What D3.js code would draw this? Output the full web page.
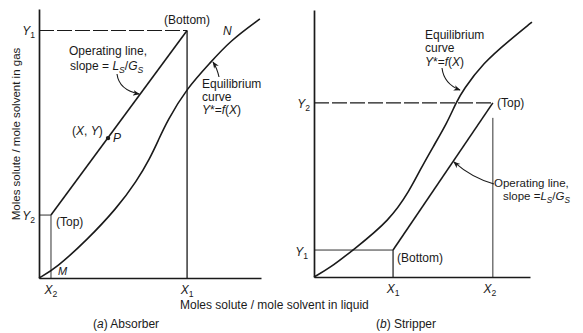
<!DOCTYPE html>
<html>
<head>
<meta charset="utf-8">
<script src="https://cdn.jsdelivr.net/npm/d3@7"></script>
<style>
  body { margin: 0; background: #fff; }
  svg text { font-family: "Liberation Sans", Arial, sans-serif; fill: #1a1a1a; }
</style>
</head>
<body>
<div id="chart"></div>
<script>
// Absorber (left) values
const absorberX = [0.54, 6.67];          // X2, X1
const absorberY = [2.34, 9.2];           // Y2, Y1
const absorberP = [3.11, 5.2];           // point (X, Y)
const absorberEq = [
  [0, 0], [0.77, 0.37], [2.16, 1.41], [3.51, 2.6], [4.41, 3.61], [5.0, 4.46],
  [5.36, 5.09], [5.77, 5.84], [6.67, 7.06], [7.7, 7.99], [8.6, 8.81], [9.95, 9.63]
];

// Stripper (right) values
const stripperX = [3.66, 8.28];          // X1, X2
const stripperY = [1.01, 6.52];          // Y1, Y2
const stripperX2Top = 5.96;              // where the X2 drop line starts
const stripperEq = [
  [0, 0], [0.74, 0.34], [1.81, 1.01], [3.52, 2.13], [4.44, 3.26], [4.91, 4.01],
  [5.51, 4.87], [6.16, 5.77], [6.57, 6.52], [6.9, 7.0], [7.82, 8.01], [9.07, 8.88], [10.09, 9.55]
];

const W = 583, H = 333;
const ink = "#1a1a1a";

const svg = d3.select("#chart").append("svg")
  .attr("width", W).attr("height", H);

const defs = svg.append("defs");
defs.append("marker")
  .attr("id", "arrow")
  .attr("viewBox", "0 0 10 10")
  .attr("refX", 9).attr("refY", 5)
  .attr("markerWidth", 7).attr("markerHeight", 7)
  .attr("markerUnits", "userSpaceOnUse")
  .attr("orient", "auto")
  .append("path")
  .attr("d", "M0,1 L10,5 L0,9 L3,5 Z")
  .attr("fill", ink);

// scales
const xLeft = d3.scaleLinear().domain([0, 10]).range([39, 261]);
const yLeft = d3.scaleLinear().domain([0, 10]).range([278, 9]);
const xRight = d3.scaleLinear().domain([0, 10]).range([314, 530]);
const yRight = d3.scaleLinear().domain([0, 10]).range([277, 10]);

// rich text helper: segs = [{t, i: italic, s: subscript}]
function rich(x, y, segs, opts = {}) {
  const size = opts.size || 12;
  const t = svg.append("text")
    .attr("x", x).attr("y", y)
    .attr("font-size", size)
    .attr("text-anchor", opts.anchor || "start");
  if (opts.rotate) t.attr("transform", `rotate(${opts.rotate},${x},${y})`);
  let shifted = false;
  segs.forEach(s => {
    const sp = t.append("tspan").text(s.t);
    if (s.i) sp.attr("font-style", "italic");
    if (s.s && !shifted) { sp.attr("dy", 2.5).attr("font-size", size * 0.72); shifted = true; }
    else if (s.s) sp.attr("font-size", size * 0.72);
    else if (shifted) { sp.attr("dy", -2.5); shifted = false; }
  });
  return t;
}

function seg(x1, y1, x2, y2, w, dash) {
  svg.append("line")
    .attr("x1", x1).attr("y1", y1).attr("x2", x2).attr("y2", y2)
    .attr("stroke", ink).attr("stroke-width", w)
    .attr("stroke-dasharray", dash || null);
}

function panel(x, y) {
  const gx = svg.append("g").attr("transform", `translate(0,${y(0)})`)
    .call(d3.axisBottom(x).tickValues([]).tickSizeOuter(0));
  const gy = svg.append("g").attr("transform", `translate(${x(0)},0)`)
    .call(d3.axisLeft(y).tickValues([]).tickSizeOuter(0));
  [gx, gy].forEach(g => g.select(".domain").attr("stroke", ink).attr("stroke-width", 1.7));
}

const line = (x, y) => d3.line().x(d => x(d[0])).y(d => y(d[1]));

// ---------- (a) Absorber ----------
panel(xLeft, yLeft);
const [aX2, aX1] = absorberX, [aY2, aY1] = absorberY;
seg(xLeft(0), yLeft(aY1), xLeft(aX1), yLeft(aY1), 1.2, "15,3");
seg(xLeft(aX1), yLeft(aY1), xLeft(aX1), yLeft(0), 1.3);
seg(xLeft(0), yLeft(aY2), xLeft(aX2), yLeft(aY2), 0.9);
seg(xLeft(aX2), yLeft(aY2), xLeft(aX2), yLeft(0), 0.9);

svg.append("path").datum([[aX2, aY2], [aX1, aY1]])
  .attr("d", line(xLeft, yLeft)).attr("fill", "none")
  .attr("stroke", ink).attr("stroke-width", 1.6);
svg.append("path").datum(absorberEq)
  .attr("d", line(xLeft, yLeft).curve(d3.curveBasis)).attr("fill", "none")
  .attr("stroke", ink).attr("stroke-width", 1.6);
svg.append("circle").attr("cx", xLeft(absorberP[0])).attr("cy", yLeft(absorberP[1]))
  .attr("r", 2.2).attr("fill", ink);

// arrows
{
  const yy = 6.84, t = (yy - aY2) / (aY1 - aY2);
  const tx = xLeft(aX2 + t * (aX1 - aX2)), ty = yLeft(yy);
  svg.append("path").attr("d", `M117,74 Q119,90 ${tx - 1},${ty}`)
    .attr("fill", "none").attr("stroke", ink).attr("stroke-width", 1.1)
    .attr("marker-end", "url(#arrow)");
  svg.append("path").attr("d", "M219,77 Q217,68 213,62")
    .attr("fill", "none").attr("stroke", ink).attr("stroke-width", 1.1)
    .attr("marker-end", "url(#arrow)");
}

rich(xLeft(aX1), 24, [{ t: "(Bottom)" }], { anchor: "middle" });
rich(35, 35, [{ t: "Y", i: true }, { t: "1", s: true }], { anchor: "end" });
rich(223, 35, [{ t: "N", i: true }]);
rich(69, 55, [{ t: "Operating line," }]);
rich(70, 70, [{ t: "slope = " }, { t: "L", i: true }, { t: "S", s: true, i: true }, { t: "/" }, { t: "G", i: true }, { t: "S", s: true, i: true }]);
rich(202, 88, [{ t: "Equilibrium" }]);
rich(202, 101, [{ t: "curve" }]);
rich(202, 114, [{ t: "Y", i: true }, { t: "*" }, { t: "=" }, { t: "f", i: true }, { t: "(" }, { t: "X", i: true }, { t: ")" }]);
rich(72, 135, [{ t: "(" }, { t: "X", i: true }, { t: ", " }, { t: "Y", i: true }, { t: ")" }]);
rich(113, 142, [{ t: "P", i: true }]);
rich(35, 220, [{ t: "Y", i: true }, { t: "2", s: true }], { anchor: "end" });
rich(56, 226, [{ t: "(Top)" }]);
rich(58, 275, [{ t: "M", i: true }], { size: 11 });
rich(xLeft(aX2), 294, [{ t: "X", i: true }, { t: "2", s: true }], { anchor: "middle" });
rich(xLeft(aX1), 294, [{ t: "X", i: true }, { t: "1", s: true }], { anchor: "middle" });
rich(20, 134, [{ t: "Moles solute / mole solvent in gas" }], { anchor: "middle", rotate: -90, size: 11.5 });
rich(180, 309, [{ t: "Moles solute / mole solvent in liquid" }]);
rich(93, 328, [{ t: "(" }, { t: "a", i: true }, { t: ")  Absorber" }]);

// ---------- (b) Stripper ----------
panel(xRight, yRight);
const [sX1, sX2] = stripperX, [sY1, sY2] = stripperY;
seg(xRight(0), yRight(sY2), xRight(sX2), yRight(sY2), 1.2, "15,3");
seg(xRight(sX2), yRight(stripperX2Top), xRight(sX2), yRight(0), 0.9);
seg(xRight(0), yRight(sY1), xRight(sX1), yRight(sY1), 0.9);
seg(xRight(sX1), yRight(sY1), xRight(sX1), yRight(0), 1.2);

svg.append("path").datum([[sX1, sY1], [sX2, sY2]])
  .attr("d", line(xRight, yRight)).attr("fill", "none")
  .attr("stroke", ink).attr("stroke-width", 1.6);
svg.append("path").datum(stripperEq)
  .attr("d", line(xRight, yRight).curve(d3.curveBasis)).attr("fill", "none")
  .attr("stroke", ink).attr("stroke-width", 1.6);

{
  const yy = 4.31, t = (yy - sY1) / (sY2 - sY1);
  const tx = xRight(sX1 + t * (sX2 - sX1)), ty = yRight(yy);
  svg.append("path").attr("d", `M494,184 Q472,178 ${tx + 1},${ty}`)
    .attr("fill", "none").attr("stroke", ink).attr("stroke-width", 1.1)
    .attr("marker-end", "url(#arrow)");
  svg.append("path").attr("d", "M442,68 Q444,84 460,90")
    .attr("fill", "none").attr("stroke", ink).attr("stroke-width", 1.1)
    .attr("marker-end", "url(#arrow)");
}

rich(425, 39, [{ t: "Equilibrium" }]);
rich(425, 52, [{ t: "curve" }]);
rich(425, 66, [{ t: "Y", i: true }, { t: "*" }, { t: "=" }, { t: "f", i: true }, { t: "(" }, { t: "X", i: true }, { t: ")" }]);
rich(497, 107, [{ t: "(Top)" }]);
rich(310, 108, [{ t: "Y", i: true }, { t: "2", s: true }], { anchor: "end" });
rich(494, 187, [{ t: "Operating line," }], { size: 11.5 });
rich(503, 200, [{ t: "slope =" }, { t: "L", i: true }, { t: "S", s: true, i: true }, { t: "/" }, { t: "G", i: true }, { t: "S", s: true, i: true }], { size: 11.5 });
rich(308, 256, [{ t: "Y", i: true }, { t: "1", s: true }], { anchor: "end" });
rich(397, 262, [{ t: "(Bottom)" }]);
rich(xRight(sX1), 293, [{ t: "X", i: true }, { t: "1", s: true }], { anchor: "middle" });
rich(xRight(sX2) - 3, 293, [{ t: "X", i: true }, { t: "2", s: true }], { anchor: "middle" });
rich(376, 328, [{ t: "(" }, { t: "b", i: true }, { t: ")  Stripper" }]);
</script>
</body>
</html>
